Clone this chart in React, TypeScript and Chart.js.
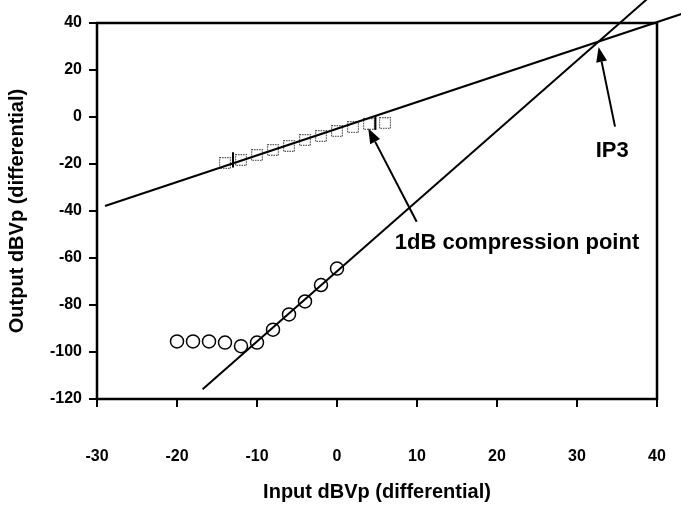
import React, { useEffect, useRef } from 'react';
import { Chart, registerables } from 'chart.js';

Chart.register(...registerables);

// ---- data ----
const xMin = -30;
const xMax = 40;
const xStep = 10;
const yMin = -120;
const yMax = 40;
const yStep = 20;

// Fundamental output (squares)
const fundInput = [-14, -12, -10, -8, -6, -4, -2, 0, 2, 4, 6];
const fundOutput = [-19.6, -18.3, -16.2, -14.0, -12.3, -9.8, -8.1, -6.0, -4.3, -3.0, -2.6];

// Third-order intermodulation output (circles)
const imdInput = [-20, -18, -16, -14, -12, -10, -8, -6, -4, -2, 0];
const imdOutput = [-95.5, -95.5, -95.5, -96, -97.5, -96, -90.5, -84, -78.5, -71.5, -64.5];

// Extrapolated fit lines
const fundFitX = [-29, 44];
const fundFitY = [-37.9, 44.9];
const imdFitX = [-16.8, 40];
const imdFitY = [-115.9, 53.9];

// Annotations (data coordinates)
const arrowLabels = ['1dB compression point', 'IP3'];
const arrowTailX = [9.96, 34.75];
const arrowTailY = [-44.6, -4.1];
const arrowTipX = [3.9, 32.7];
const arrowTipY = [-4.8, 29.8];
const labelX = [22.5, 34.4];
const labelY = [-53.5, -14.5];

// small compression markers
const markerX = [4.8, -13];
const markerTop = [0.5, -15];
const markerBottom = [-5.5, -21.5];

const FONT = "'Liberation Sans', Arial, sans-serif";

export default function App() {
  const ref = useRef<HTMLCanvasElement | null>(null);

  useEffect(() => {
    const canvas = ref.current;
    if (!canvas) return;

    // dotted gray square point style
    const sq = document.createElement('canvas');
    sq.width = 12;
    sq.height = 12;
    const sctx = sq.getContext('2d')!;
    sctx.setLineDash([1.5, 1]);
    sctx.strokeStyle = '#555';
    sctx.lineWidth = 1.2;
    sctx.strokeRect(0.6, 0.6, 10.8, 10.8);

    const overlay = {
      id: 'overlay',
      afterDatasetsDraw(chart: any) {
        const { ctx, chartArea } = chart;
        const xs = chart.scales.x;
        const ys = chart.scales.y;
        ctx.save();
        // box
        ctx.strokeStyle = '#000';
        ctx.lineWidth = 2.5;
        ctx.strokeRect(chartArea.left, chartArea.top, chartArea.right - chartArea.left, chartArea.bottom - chartArea.top);

        // markers
        ctx.lineWidth = 2;
        for (let i = 0; i < markerX.length; i++) {
          const px = xs.getPixelForValue(markerX[i]);
          ctx.beginPath();
          ctx.moveTo(px, ys.getPixelForValue(markerTop[i]));
          ctx.lineTo(px, ys.getPixelForValue(markerBottom[i]));
          ctx.stroke();
        }

        // arrows
        for (let i = 0; i < arrowLabels.length; i++) {
          const x1 = xs.getPixelForValue(arrowTailX[i]);
          const y1 = ys.getPixelForValue(arrowTailY[i]);
          const x2 = xs.getPixelForValue(arrowTipX[i]);
          const y2 = ys.getPixelForValue(arrowTipY[i]);
          const ang = Math.atan2(y2 - y1, x2 - x1);
          const hl = 15;
          const hw = 5.5;
          const bx = x2 - hl * Math.cos(ang);
          const by = y2 - hl * Math.sin(ang);
          ctx.lineWidth = 2;
          ctx.beginPath();
          ctx.moveTo(x1, y1);
          ctx.lineTo(bx, by);
          ctx.stroke();
          ctx.fillStyle = '#000';
          ctx.beginPath();
          ctx.moveTo(x2, y2);
          ctx.lineTo(bx + hw * Math.sin(ang), by - hw * Math.cos(ang));
          ctx.lineTo(bx - hw * Math.sin(ang), by + hw * Math.cos(ang));
          ctx.closePath();
          ctx.fill();

          ctx.font = `bold 22px ${FONT}`;
          ctx.textAlign = 'center';
          ctx.textBaseline = 'middle';
          ctx.fillText(arrowLabels[i], xs.getPixelForValue(labelX[i]), ys.getPixelForValue(labelY[i]));
        }
        ctx.restore();
      },
    };

    const chart = new Chart(canvas, {
      type: 'scatter',
      data: {
        datasets: [
          {
            label: 'Fundamental fit',
            data: fundFitX.map((x, i) => ({ x, y: fundFitY[i] })),
            showLine: true,
            borderColor: '#000',
            borderWidth: 2,
            pointRadius: 0,
            clip: false as any,
          },
          {
            label: 'IM3 fit',
            data: imdFitX.map((x, i) => ({ x, y: imdFitY[i] })),
            showLine: true,
            borderColor: '#000',
            borderWidth: 2,
            pointRadius: 0,
            clip: false as any,
          },
          {
            label: 'Fundamental',
            data: fundInput.map((x, i) => ({ x, y: fundOutput[i] })),
            pointStyle: sq as any,
            pointRadius: 6,
            showLine: false,
          },
          {
            label: 'IM3',
            data: imdInput.map((x, i) => ({ x, y: imdOutput[i] })),
            pointStyle: 'circle',
            pointRadius: 6.5,
            borderColor: '#000',
            borderWidth: 1.5,
            backgroundColor: 'rgba(0,0,0,0)',
            showLine: false,
          },
        ],
      },
      options: {
        animation: false,
        responsive: false,
        devicePixelRatio: 1,
        layout: { padding: { left: 0, top: 23, right: 24, bottom: 0 } },
        plugins: {
          legend: { display: false },
          tooltip: { enabled: false },
        },
        scales: {
          x: {
            type: 'linear',
            min: xMin,
            max: xMax,
            ticks: {
              stepSize: xStep,
              color: '#000',
              padding: 40,
              font: { family: FONT, size: 16, weight: 'bold' },
            },
            grid: {
              drawOnChartArea: false,
              drawTicks: true,
              tickLength: 8,
              color: '#000',
              lineWidth: 2,
            },
            border: { display: false },
            title: {
              display: true,
              text: 'Input dBVp (differential)',
              color: '#000',
              font: { family: FONT, size: 20, weight: 'bold' },
              padding: { top: 0, bottom: 6 },
            },
            afterFit: (s: any) => {
              s.height = 111;
              s.paddingLeft = 0;
              s.paddingRight = 0;
            },
          },
          y: {
            type: 'linear',
            min: yMin,
            max: yMax,
            ticks: {
              stepSize: yStep,
              color: '#000',
              padding: 7,
              font: { family: FONT, size: 16, weight: 'bold' },
            },
            grid: {
              drawOnChartArea: false,
              drawTicks: true,
              tickLength: 8,
              color: '#000',
              lineWidth: 2,
            },
            border: { display: false },
            title: {
              display: true,
              text: 'Output dBVp (differential)',
              color: '#000',
              font: { family: FONT, size: 20, weight: 'bold' },
              padding: { top: 5, bottom: 0 },
            },
            afterFit: (s: any) => {
              s.width = 97;
              s.paddingTop = 0;
              s.paddingBottom = 0;
            },
          },
        },
      } as any,
      plugins: [overlay],
    });

    return () => chart.destroy();
  }, []);

  return (
    <div style={{ position: 'fixed', left: 0, top: 0, width: 681, height: 510, background: '#fff' }}>
      <canvas ref={ref} width={681} height={510} style={{ display: 'block' }} />
    </div>
  );
}
